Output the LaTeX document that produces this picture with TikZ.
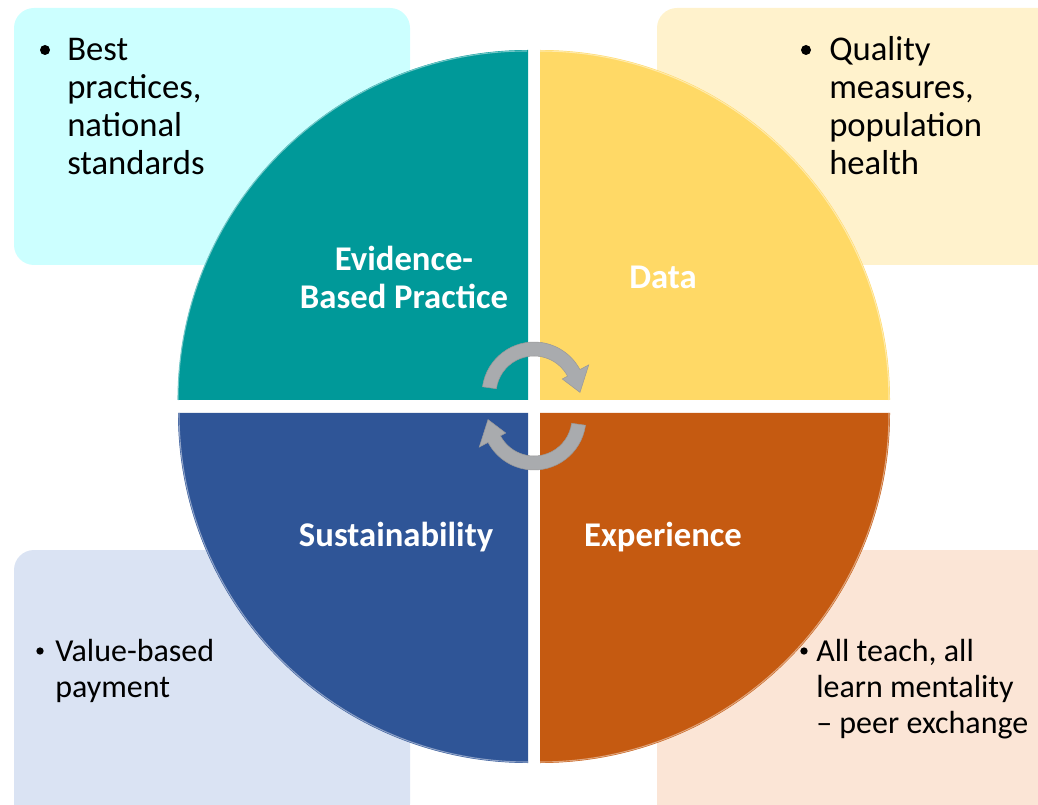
\documentclass[tikz,border=0pt]{standalone}
\usepackage{fontspec}
\setmainfont{Carlito}
\usetikzlibrary{positioning}

\definecolor{EBP}{HTML}{009999}
\definecolor{Data}{HTML}{FFD966}
\definecolor{Sust}{HTML}{2F5597}
\definecolor{Expe}{HTML}{C55A11}
\definecolor{EBPbox}{HTML}{CCFFFF}
\definecolor{Databox}{HTML}{FFF2CC}
\definecolor{Sustbox}{HTML}{DAE3F3}
\definecolor{Expebox}{HTML}{FBE5D6}
\definecolor{Turn}{HTML}{A9ABAE}

\tikzset{
  quadlabel/.style={font=\fontsize{26}{28.5}\selectfont\bfseries, text=white, align=center, inner sep=0pt},
  boxtext/.style={font=\fontsize{26}{28.5}\selectfont, align=left, anchor=base west, inner sep=0pt},
  smallboxtext/.style={boxtext, font=\fontsize{24}{27}\selectfont},
  dot/.style={circle, fill=black, inner sep=0pt, minimum size=7.5pt},
  smalldot/.style={dot, minimum size=5.5pt},
  turn/.style={fill=Turn, draw=black!40, line width=0.4pt}
}

% curved arrow around the origin
\newcommand{\turnpath}{(172:52) arc[start angle=172, end angle=28, radius=52]
  -- (28:62) -- (2:46) -- (28:32) -- (28:38)
  arc[start angle=28, end angle=172, radius=38] -- cycle}

\begin{document}
\begin{tikzpicture}[x=0.75pt, y=0.75pt]

 \useasboundingbox (0,0) rectangle (1038,804);
 \clip (0,0) rectangle (1038,804);

 %%%%%%%%%% Boxes %%%%%%%%%%
 \fill [EBPbox, rounded corners=15pt] (14,539) rectangle (410,796);
 \fill [Databox, rounded corners=15pt] (657,539) rectangle (1060,796);
 \fill [Sustbox, rounded corners=15pt] (14,-20) rectangle (410,254);
 \fill [Expebox, rounded corners=15pt] (657,-20) rectangle (1060,254);

 %%%%%%%%%% Quarters %%%%%%%%%%
 \fill [EBP] (528,404) -- (178,404) arc[start angle=180, end angle=90, radius=350] -- cycle;
 \fill [Data] (540,404) -- (540,754) arc[start angle=90, end angle=0, radius=350] -- cycle;
 \fill [Sust] (528,391) -- (528,41) arc[start angle=270, end angle=180, radius=350] -- cycle;
 \fill [Expe] (540,391) -- (890,391) arc[start angle=0, end angle=-90, radius=350] -- cycle;

 % light rims
 \draw [EBP!55!white, line width=0.8pt] (178,404) arc[start angle=180, end angle=90, radius=349];
 \draw [Data!55!white, line width=0.8pt] (540,753) arc[start angle=90, end angle=0, radius=349];
 \draw [Sust!55!white, line width=0.8pt] (528,42) arc[start angle=270, end angle=180, radius=349];
 \draw [Expe!55!white, line width=0.8pt] (889,391) arc[start angle=0, end angle=-90, radius=349];

 %%%%%%%%%% Arrows %%%%%%%%%%
 \begin{scope}[shift={(534,410)}]
  \path [turn] \turnpath;
 \end{scope}
 \begin{scope}[shift={(534,386)}, rotate=180]
  \path [turn] \turnpath;
 \end{scope}

 %%%%%%%%%% Quarter names %%%%%%%%%%
 \node [quadlabel] (ebp) at (404,527) {Evidence-\\Based Practice};
 \node [quadlabel] (data) at (663,527) {Data};
 \node [quadlabel] (sust) at (396,267) {Sustainability};
 \node [quadlabel] (expe) at (663,267) {Experience};

 %%%%%%%%%% Box texts (placed by the last line) %%%%%%%%%%
 \node [dot] (ebpdot) at (45,754) {};
 \node [boxtext] (ebptext) at (67,629) {Best\\practices,\\national\\standards};

 \node [dot] (datadot) at (806,754) {};
 \node [boxtext] (datatext) at (829,629) {Quality\\measures,\\population\\health};

 \node [smalldot] (sustdot) at (40,153) {};
 \node [smallboxtext] (susttext) at (55,107) {Value-based\\payment};

 \node [smalldot] (expedot) at (804,153) {};
 \node [smallboxtext] (expetext) at (816,71) {All teach, all\\learn mentality\\– peer exchange};

\end{tikzpicture}
\end{document}
